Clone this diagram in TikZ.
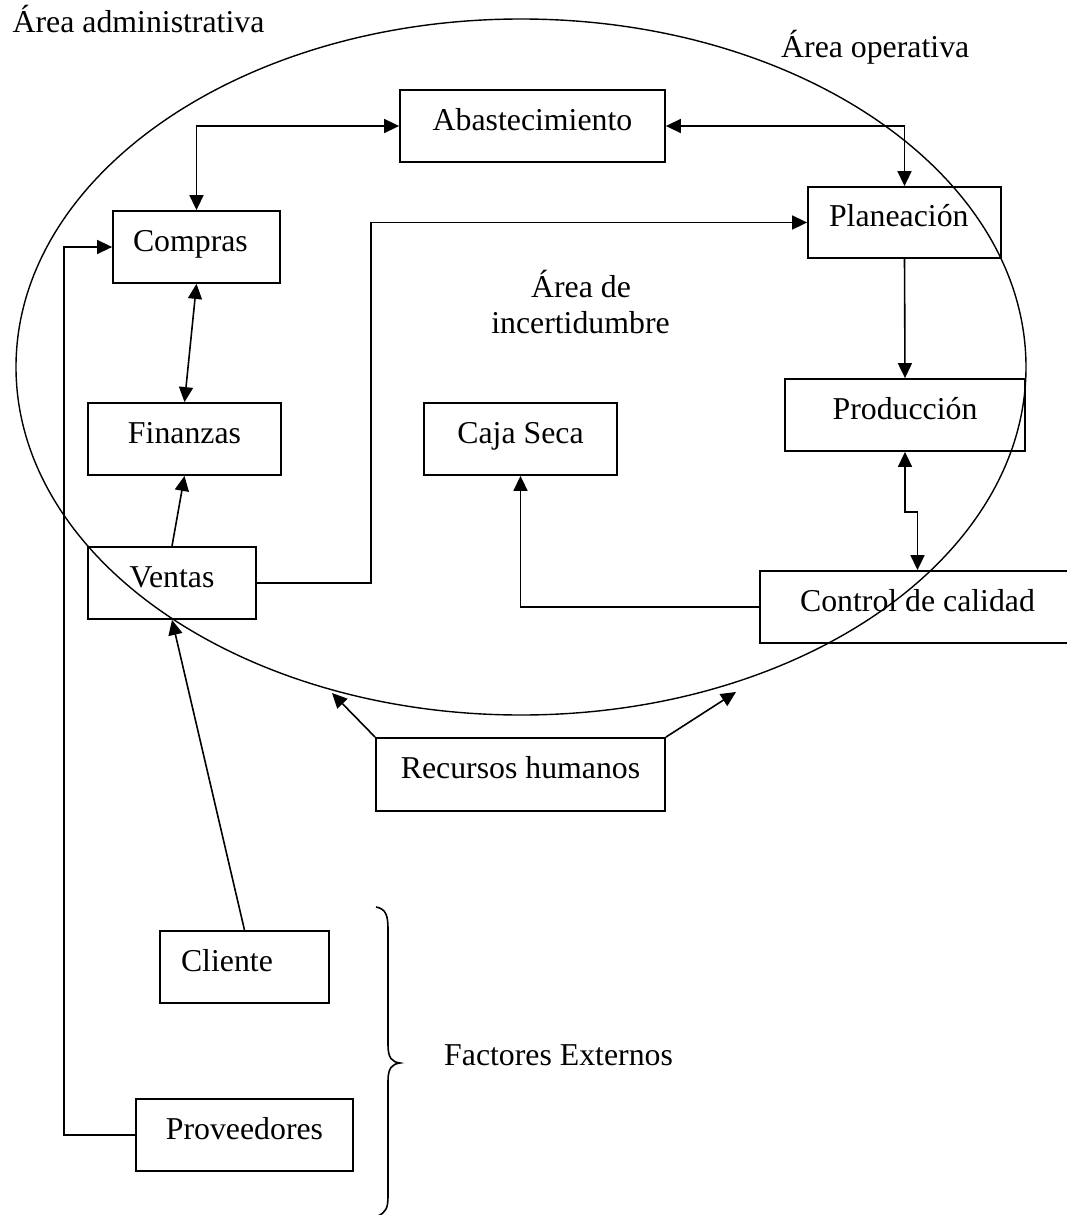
\documentclass[tikz,border=0pt]{standalone}
\usepackage{fontspec}
\setmainfont{Liberation Serif}
\usetikzlibrary{arrows.meta}
\newcommand\diagfont{\fontsize{31.8pt}{36pt}\selectfont}
\begin{document}
\begin{tikzpicture}[x=1pt,y=-1pt,
  >={Triangle[length=15pt,width=14pt]},
  box/.style={draw, line width=1.8pt, rectangle, minimum height=72pt,
    inner xsep=0pt, inner ysep=0pt, text height=22pt, text depth=14pt, font=\diagfont},
  lbox/.style={box, align=left},
  conn/.style={line width=1.6pt},
  lbl/.style={inner sep=0pt, font=\diagfont, anchor=base west}]
\useasboundingbox (0,0) rectangle (1067,1215);

% ellipse
\draw[line width=1.4pt] (521,367) ellipse [x radius=505pt, y radius=348pt];

% boxes
\node[box, minimum width=265pt] (abast) at (532.5,126) {Abastecimiento};
\node[lbox, text width=127pt, inner xsep=20pt] (compras) at (196.5,247) {Compras};
\node[lbox, text width=151pt, inner xsep=21pt, minimum height=71pt] (plan) at (904.5,222.5) {Planeación};
\node[box, minimum width=193pt] (fin) at (184.5,439) {Finanzas};
\node[box, minimum width=193pt] (caja) at (520.5,439) {Caja Seca};
\node[box, minimum width=168pt] (ventas) at (172,583) {Ventas};
\node[box, minimum width=240pt] (prod) at (905,415) {Producción};
\node[box, minimum width=315pt] (control) at (917.5,607) {Control de calidad};
\node[box, minimum width=289pt, minimum height=73pt] (rh) at (520.5,774.5) {Recursos humanos};
\node[lbox, text width=127pt, inner xsep=21pt] (cliente) at (244.5,967) {Cliente};
\node[box, minimum width=217pt] (prov) at (244.5,1135) {Proveedores};

% free labels
\node[lbl] (admin) at (12.5,33) {Área administrativa};
\node[lbl] (oper) at (781,58) {Área operativa};
\node[inner sep=0pt, font=\diagfont, anchor=base] (inc1) at (581,297) {Área de};
\node[inner sep=0pt, font=\diagfont, anchor=base] (inc2) at (580.5,333) {incertidumbre};
\node[lbl] (fact) at (444,1065) {Factores Externos};

% connectors
\draw[conn,<->] (abast.west) -| (compras.north);
\draw[conn,<->] (abast.east) -| (plan.north);
\draw[conn,->] (ventas.east) -- ([xshift=114pt]ventas.east) |- (plan.west);
\draw[conn,<->] (compras.south) -- (fin.north);
\draw[conn,->] (ventas.north) -- (fin.south);
\draw[conn,->] (cliente.north) -- (ventas.south);
\draw[conn,->] (prov.west) -- ++(-71,0) |- (compras.west);
\draw[conn,->] (plan.south) -- (prod.north);
\draw[conn,<->] (prod.south) -- ++(0,60) -| (control.north);
\draw[conn,->] (control.west) -| (caja.south);

\coordinate (rhl) at (332,693);
\coordinate (rhr) at (736,692);
\draw[conn,->] (rh.north west) -- (rhl);
\draw[conn,->] (rh.north east) -- (rhr);

% brace
\draw[line width=1.6pt] (376,907) .. controls (386,909) and (388,915) .. (388,930)
  -- (388,1045) .. controls (388,1058) and (392,1062) .. (400,1063)
  .. controls (392,1064) and (388,1068) .. (388,1081)
  -- (388,1196) .. controls (388,1208) and (386,1212) .. (378,1216);
\end{tikzpicture}
\end{document}
